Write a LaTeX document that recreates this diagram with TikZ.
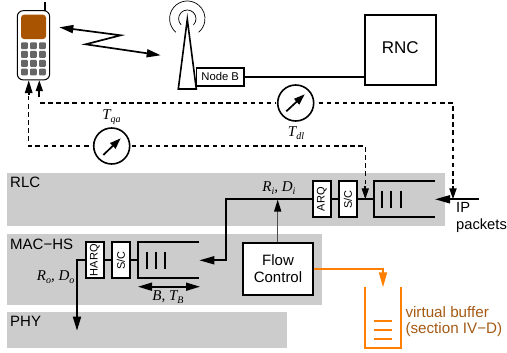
\documentclass[tikz,border=0pt]{standalone}
\usepackage{fontspec}
\setmainfont{Liberation Sans}
\newfontfamily\serfont{Liberation Serif}[ItalicFont=Liberation Serif Italic]
\usetikzlibrary{arrows.meta,calc}
\definecolor{band}{HTML}{CCCCCC}
\definecolor{brownscreen}{HTML}{A85400}
\definecolor{keygray}{HTML}{666666}
\definecolor{orangeline}{HTML}{FF8000}
\definecolor{browntext}{HTML}{A55A14}
\newcommand{\sym}[2]{{\fontsize{15}{15}\selectfont\serfont\itshape #1\raisebox{-3pt}{\fontsize{10}{10}\selectfont #2}}}
\tikzset{
  wire/.style={line width=1.7pt,line join=miter},
  bandbox/.style={fill=band,draw=none,inner sep=0pt,anchor=north west},
  bandlabel/.style={font=\fontsize{15}{15}\selectfont,inner sep=0pt,anchor=west},
  vbox/.style={draw,line width=1.7pt,fill=white,inner sep=0pt,minimum width=18pt,minimum height=36pt},
  vtext/.style={font=\fontsize{11}{11}\selectfont,rotate=90},
  block/.style={draw,line width=1.7pt,fill=white,inner sep=0pt,align=center},
  gauge/.style={circle,draw,line width=1.6pt,fill=white,minimum size=36pt,inner sep=0pt},
  dashline/.style={line width=1.4pt,dash pattern=on 4.5pt off 3.6pt},
  bighead/.style={-{Triangle[length=14pt,width=8pt]}},
  bothhead/.style={{Triangle[length=14pt,width=8pt]}-{Triangle[length=14pt,width=8pt]}},
  smallhead/.style={-{Triangle[length=11pt,width=7pt]}},
  keycap/.style={fill=keygray,draw=none,rounded corners=1pt,inner sep=0pt,minimum width=6.8pt,minimum height=6.8pt},
  lab/.style={inner sep=0pt},
  orangewire/.style={draw=orangeline,line width=1.7pt},
}
\begin{document}
\begin{tikzpicture}[x=1pt,y=-1pt]
\useasboundingbox (0,0) rectangle (507,353);
% bands
\node[bandbox,minimum width=438pt,minimum height=52.5pt] (rlcband) at (7,173.3) {};
\node[bandbox,minimum width=315pt,minimum height=71pt] (macband) at (7,234) {};
\node[bandbox,minimum width=280pt,minimum height=35.7pt] (phyband) at (7,312) {};
\node[bandlabel] (rlclabel) at (10,182.7) {RLC};
\node[bandlabel] (maclabel) at (10,244) {MAC−HS};
\node[bandlabel] (phylabel) at (10,321.7) {PHY};
% phone
\node[draw,line width=1pt,rounded corners=6pt,fill=white,minimum width=32.4pt,minimum height=69.3pt,inner sep=0pt] (phone) at (33.5,45.3) {};
\coordinate (antennatop) at (45,2);
\coordinate (antennabase) at (45,10.7);
\draw[line width=1.2pt] (antennatop) -- (antennabase);
\node[fill=brownscreen,rounded corners=3pt,minimum width=25pt,minimum height=24.3pt,inner sep=0pt] (screen) at (33.5,26.9) {};
\foreach \yy [count=\r] in {45.7,54.4,63.4,72} \foreach \xx [count=\c] in {24.4,33.4,42.4} {
  \node[keycap] (key\r\c) at (\xx,\yy) {};
}
% radio link
\coordinate (za) at (59.3,27.3);
\coordinate (zb) at (120.7,35.3);
\coordinate (zc) at (85.7,44.3);
\coordinate (zd) at (160.7,55.3);
\draw[wire,{Triangle[length=14pt,width=8pt]}-{Triangle[length=14pt,width=8pt]}] (za) -- (zb) -- (zc) -- (zd);
% tower
\coordinate (apex) at (187.3,19.3);
\coordinate (towerl) at (178.3,89);
\coordinate (towerr) at (196.3,89);
\draw[line width=1.6pt,fill=white,line join=miter] (towerl) -- (apex) -- (towerr) -- cycle;
\coordinate (arcc) at (187.3,18.7);
\draw[line width=.7pt] ($(arcc)+(130:17.7)$) arc[start angle=130,end angle=410,radius=17.7];
\draw[line width=.7pt] ($(arcc)+(135:8.7)$) arc[start angle=135,end angle=405,radius=8.7];
\node[block,minimum width=47.7pt,minimum height=18pt,font=\fontsize{11.3}{11.3}\selectfont] (nodeb) at (220.2,76.7) {Node B};
\node[block,minimum width=70.7pt,minimum height=70.3pt] (rnc) at (400.3,50.2) {};
\node[inner sep=0pt,font=\fontsize{17}{17}\selectfont] (rnctext) at (400.3,48) {RNC};
\draw[wire] (nodeb.east) -- (rnc.west |- nodeb.east);
% RLC stack
\node[vbox] (arq) at (321.8,199.3) {}; \node[vtext] (arqt) at (arq) {ARQ};
\node[vbox] (scu) at (348,199.3) {}; \node[vtext] (scut) at (scu) {S/C};
\coordinate (rlcqtr) at (435,181.3);
\coordinate (rlcqtl) at (374,181.3);
\coordinate (rlcqbl) at (374,217.3);
\coordinate (rlcqbr) at (435,217.3);
\coordinate (rlcqm) at (374,199.3);
\draw[wire] (rlcqtr) -- (rlcqtl) -- (rlcqbl) -- (rlcqbr);
\foreach \xx in {382.3,391.3,401} \draw[wire] (\xx,190.7) -- (\xx,208);
\draw[wire] (arq.east) -- (scu.west);
\draw[wire] (scu.east) -- (rlcqm);
% MAC stack
\node[vbox] (harq) at (94.7,260.3) {}; \node[vtext] (harqt) at (harq) {HARQ};
\node[vbox] (scd) at (120.9,260.3) {}; \node[vtext] (scdt) at (scd) {S/C};
\coordinate (macqtr) at (199.3,242.3);
\coordinate (macqtl) at (138,242.3);
\coordinate (macqbl) at (138,278.3);
\coordinate (macqbr) at (199.3,278.3);
\coordinate (macqm) at (138,260.3);
\draw[wire] (macqtr) -- (macqtl) -- (macqbl) -- (macqbr);
\foreach \xx in {147,156,165} \draw[wire] (\xx,251.7) -- (\xx,269);
\draw[wire] (harq.east) -- (scd.west);
\draw[wire] (scd.east) -- (macqm);
% data path
\coordinate (qin) at (199.3,260.3);
\coordinate (bendlow) at (225.7,260.3);
\coordinate (bendhigh) at (225.7,199.3);
\draw[wire,{Triangle[length=15pt,width=8pt]}-] (qin) -- (bendlow) -- (bendhigh) -- (arq.west);
\coordinate (phytip) at (77,330.7);
\draw[wire,bighead] (harq.west) -| (phytip);
% double arrow
\coordinate (bl) at (138,286.7);
\coordinate (br) at (200,286.7);
\draw[wire,bothhead] (bl) -- (br);
\node[lab] (blabel) at (168,297) {\sym{B, T}{B}};
\node[lab] (rolabel) at (55.7,277.3) {\sym{R}{o}\sym{, D}{o}};
\node[lab] (rilabel) at (279,188.3) {\sym{R}{i}\sym{, D}{i}};
% flow control
\node[block,minimum width=70.6pt,minimum height=52.6pt,font=\fontsize{15}{17}\selectfont] (flow) at (278,269) {Flow\\Control};
\coordinate (flowtip) at (277.7,199.6);
\draw[line width=1.4pt,draw=black!70,-{Triangle[length=12pt,width=7pt,black]}] (flow.north -| flowtip) -- (flowtip);
% IP packets
\coordinate (iptip) at (435,199.3);
\coordinate (ipstart) at (479,199.3);
\draw[wire,{Triangle[length=15pt,width=8pt]}-] (iptip) -- (ipstart);
\node[inner sep=0pt,anchor=west,align=left,font=\fontsize{14.7}{17}\selectfont] (iptext) at (456,217) {IP\\packets};
% delay paths
\node[gauge] (tdl) at (295.7,103) {};
\node[gauge] (tqa) at (111.7,146) {};
\coordinate (dlphone) at (39.3,80.2);
\coordinate (dlcorner2) at (453,103);
\coordinate (dltip) at (453,199.3);
\coordinate (qaphone) at (28.7,80.2);
\coordinate (qacorner1) at (28.7,146);
\coordinate (qacorner2) at (365.3,146);
\coordinate (qatip) at (365.3,199.3);
\draw[wire,smallhead] (39.3,97.5) -- (dlphone);
\draw[wire,-{Triangle[length=13pt,width=7.5pt]}] (28.7,95) -- (qaphone);
\draw[dashline] (40,103) -- ($(tdl.west)+(-1,0)$);
\draw[dashline] ($(tdl.east)+(4,0)$) -- (dlcorner2) -- (453,186);
\draw[wire,smallhead] (453,186) -- (dltip);
\draw[dashline] (28.7,96) -- (qacorner1) -- ($(tqa.west)+(-1,0)$);
\draw[dashline] ($(tqa.east)+(1,0)$) -- (qacorner2) -- (365.3,186);
\draw[wire,smallhead] (365.3,186) -- (qatip);
% gauge needles
\coordinate (qna) at (103.3,155);
\coordinate (qnb) at (120.7,138.3);
\coordinate (dna) at (286.3,111.3);
\coordinate (dnb) at (304.7,94.3);
\draw[wire,-{Triangle[length=11pt,width=7.5pt]}] (qna) -- (qnb);
\draw[wire,-{Triangle[length=11pt,width=7.5pt]}] (dna) -- (dnb);
\node[lab] (tqal) at (111.5,117) {\sym{T}{qa}};
\node[lab] (tdll) at (296,133) {\sym{T}{dl}};
% virtual buffer
\coordinate (vbtip) at (383,287.3);
\draw[orangewire,-{Triangle[length=15pt,width=8pt,orangeline]}] (flow.east |- 0,268.7) -| (vbtip);
\coordinate (bktl) at (365.3,286.7);
\coordinate (bkbl) at (365.3,347.7);
\coordinate (bkbr) at (400.7,347.7);
\coordinate (bktr) at (400.7,286.7);
\draw[orangewire] (bktl) -- (bkbl) -- (bkbr) -- (bktr);
\foreach \yy in {321,330,339} \draw[orangewire] (374,\yy) -- (391.7,\yy);
\node[inner sep=0pt,anchor=west,align=left,text=browntext,font=\fontsize{15.2}{16}\selectfont] (vbtext) at (405.3,322) {virtual buffer\\(section IV−D)};
\end{tikzpicture}
\end{document}
